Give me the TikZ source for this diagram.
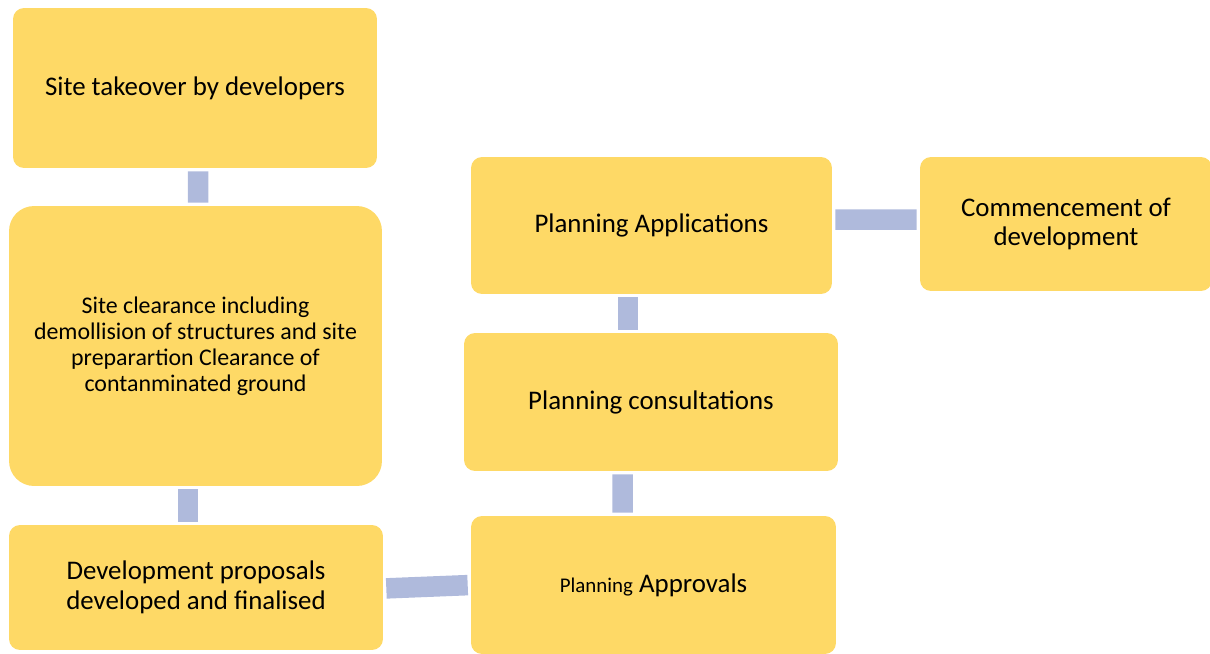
\documentclass[tikz,border=0pt]{standalone}
\usepackage{fontspec}
\setmainfont{Carlito}
\usepackage{xcolor}
\usetikzlibrary{positioning,calc}
\definecolor{boxyellow}{HTML}{FED966}
\definecolor{linkblue}{HTML}{AFBADC}
\tikzset{
  stage/.style={fill=boxyellow, rounded corners=0.22cm, align=center, inner sep=0pt, font=\fontsize{15.3}{17}\selectfont},
  link/.style={draw=linkblue, line width=0.41cm, line cap=butt, shorten <=0.06cm, shorten >=0.06cm}
}
\begin{document}
\begin{tikzpicture}[x=0.02cm,y=-0.02cm]
    \useasboundingbox (0,0) rectangle (1210,653);
    % Stages
    \node[stage, minimum width=7.28cm, minimum height=3.2cm] (takeover) at (195,88) {Site takeover by developers};
    \node[stage, rounded corners=0.5cm, minimum width=7.46cm, minimum height=5.6cm, font=\fontsize{13.6}{14.8}\selectfont] (clearance) at (195.5,346)
        {Site clearance including\\demollision of structures and site\\preparartion Clearance of\\contanminated ground};
    \node[stage, minimum width=7.48cm, minimum height=2.5cm] (proposals) at (196,587.5) {Development proposals\\developed and finalised};
    \node[stage, minimum width=7.3cm, minimum height=2.76cm] (approvals) at (653.5,585) {{\fontsize{11.9}{12}\selectfont Planning} Approvals};
    \node[stage, minimum width=7.48cm, minimum height=2.76cm] (consult) at (651,402) {Planning consultations};
    \node[stage, minimum width=7.22cm, minimum height=2.74cm] (applic) at (651.5,225.5) {Planning Applications};
    \node[stage, minimum width=5.84cm, minimum height=2.68cm, font=\fontsize{15.3}{16.4}\selectfont] (commence) at (1066,224) {Commencement of\\development};

    % Links
    \draw[link] ($(takeover.south)+(3,0)$) -- ($(clearance.north)+(2.5,0)$);
    \draw[link] ($(clearance.south)+(-7.5,0)$) -- ($(proposals.north)+(-8,0)$);
    \draw[link] ($(proposals.east)+(0,1)$) -- (approvals.west);
    \draw[link] ($(approvals.north)+(-31,0)$) -- ($(consult.south)+(-28.5,0)$);
    \draw[link] ($(consult.north)+(-23,0)$) -- ($(applic.south)+(-23.5,0)$);
    \draw[link] ($(applic.east)+(0,-6)$) -- ($(commence.west)+(0,-4.5)$);
\end{tikzpicture}
\end{document}
